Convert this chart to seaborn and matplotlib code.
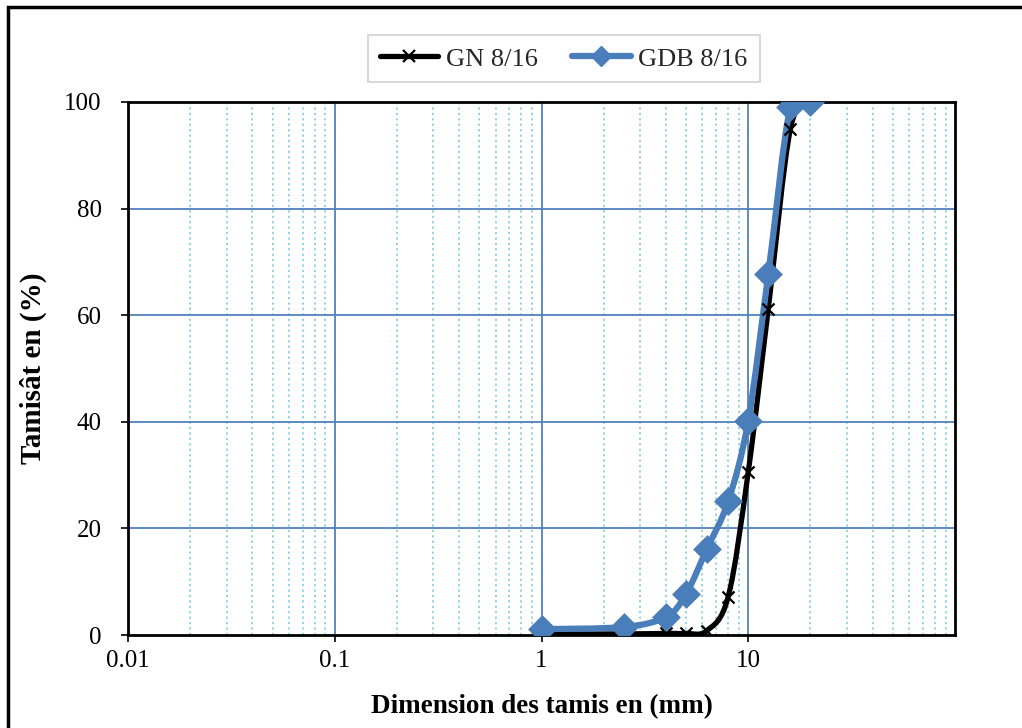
import numpy as np
import pandas as pd
import matplotlib
matplotlib.use("Agg")
import matplotlib.pyplot as plt
import seaborn as sns
from matplotlib.path import Path
from matplotlib.patches import PathPatch, Rectangle
from matplotlib.lines import Line2D
from matplotlib.ticker import FixedLocator, FixedFormatter, NullFormatter

# Sieve openings (mm) and cumulative passing (%)
sieves = [1, 2.5, 4, 5, 6.3, 8, 10, 12.5, 16, 20]
gn_passing = [0.2, 0.2, 0.3, 0.3, 0.8, 7.2, 30.6, 61.2, 95.0, 100]
gdb_passing = [1.1, 1.5, 3.4, 7.7, 16.1, 25.1, 40.2, 67.7, 99.1, 100]

series_names = ["GN 8/16", "GDB 8/16"]
x_ticks = [0.01, 0.1, 1, 10]
x_tick_labels = ["0.01", "0.1", "1", "10"]
y_ticks = [0, 20, 40, 60, 80, 100]

sns.set_theme(style="white")
plt.rcParams["font.family"] = ["Liberation Serif", "DejaVu Serif"]

BLUE = "#4A7EBB"
GRID_MAJOR = "#4F81BD"
GRID_MINOR = "#8CCFE0"

fig = plt.figure(figsize=(10.22, 7.28), dpi=100)
ax = fig.add_axes([128 / 1022, 1 - 635 / 728, (955 - 128) / 1022, (635 - 102) / 728])
ax.set_xscale("log")
ax.set_xlim(0.01, 100)
ax.set_ylim(0, 100)


def smooth_path(xs, ys):
    """Bezier path through the points (Catmull-Rom style, computed in log-x space)."""
    lx = np.log10(np.asarray(xs, float))
    ly = np.asarray(ys, float)
    pts = np.column_stack([lx, ly])
    n = len(pts)
    verts = [pts[0]]
    codes = [Path.MOVETO]
    for i in range(n - 1):
        p0 = pts[i - 1] if i > 0 else pts[i]
        p1 = pts[i]
        p2 = pts[i + 1]
        p3 = pts[i + 2] if i + 2 < n else pts[i + 1]
        c1 = p1 + (p2 - p0) / 6.0
        c2 = p2 - (p3 - p1) / 6.0
        verts += [c1, c2, p2]
        codes += [Path.CURVE4] * 3
    verts = np.array(verts)
    verts[:, 0] = 10 ** verts[:, 0]
    return Path(verts, codes)


# Smoothed curves
ax.add_patch(PathPatch(smooth_path(sieves, gn_passing), fill=False,
                       edgecolor="black", lw=3.8, capstyle="round", zorder=3))
ax.add_patch(PathPatch(smooth_path(sieves, gdb_passing), fill=False,
                       edgecolor=BLUE, lw=4.5, capstyle="round", zorder=4))

df_gn = pd.DataFrame({"x": sieves, "y": gn_passing})
df_gdb = pd.DataFrame({"x": sieves, "y": gdb_passing})
sns.scatterplot(data=df_gn, x="x", y="y", marker="x", color="black",
                s=75, linewidth=1.6, ax=ax, zorder=5, legend=False)
sns.scatterplot(data=df_gdb, x="x", y="y", marker="D", color=BLUE,
                s=200, edgecolor=BLUE, linewidth=0.5, ax=ax, zorder=6, legend=False)

# Grid
ax.xaxis.set_major_locator(FixedLocator(x_ticks))
ax.xaxis.set_major_formatter(FixedFormatter(x_tick_labels))
minor = [m * 10.0 ** e for e in range(-2, 2) for m in range(2, 10)]
ax.xaxis.set_minor_locator(FixedLocator(minor))
ax.xaxis.set_minor_formatter(NullFormatter())
ax.set_yticks(y_ticks)

for v in [0.1, 1, 10]:
    ax.axvline(v, color=GRID_MAJOR, lw=1.3, zorder=1)
for v in minor:
    ax.axvline(v, color=GRID_MINOR, lw=1.3, ls=(0, (1.2, 1.8)), zorder=1)
for v in y_ticks[1:-1]:
    ax.axhline(v, color=GRID_MAJOR, lw=1.3, zorder=1)

for s in ax.spines.values():
    s.set_color("black")
    s.set_linewidth(2.0)
    s.set_visible(True)

ax.tick_params(axis="both", which="major", direction="out", length=5, width=1.2,
               color="black", labelsize=18, labelcolor="black", bottom=True, left=True)
ax.tick_params(axis="x", which="major", pad=6)
ax.tick_params(axis="y", which="major", pad=14)
ax.tick_params(axis="x", which="minor", bottom=False)

ax.set_xlabel("Dimension des tamis en (mm)", fontsize=19.5, fontweight="bold",
              color="black", labelpad=16)
ax.set_ylabel("Tamisât en (%)", fontsize=21, fontweight="bold",
              color="black", labelpad=12)

handles = [
    Line2D([], [], color="black", lw=3.8, marker="x", markersize=9, markeredgewidth=1.6),
    Line2D([], [], color=BLUE, lw=4.5, marker="D", markersize=10),
]
leg = fig.legend(handles, series_names, loc="upper center", ncol=2,
                 bbox_to_anchor=(564 / 1022, 1 - 22 / 728), fontsize=19,
                 frameon=True, fancybox=False, handlelength=2.2,
                 handletextpad=0.3, columnspacing=1.3, borderpad=0.45)
leg.get_frame().set_edgecolor("#D0D0D0")
leg.get_frame().set_linewidth(1.5)

# Outer chart frame
fig.add_artist(Rectangle((8 / 1022, -0.05), 1.1, 1.05 - 7 / 728,
                         transform=fig.transFigure, fill=False,
                         edgecolor="black", lw=2.5, clip_on=False))

fig.savefig("out.png", dpi=100)
